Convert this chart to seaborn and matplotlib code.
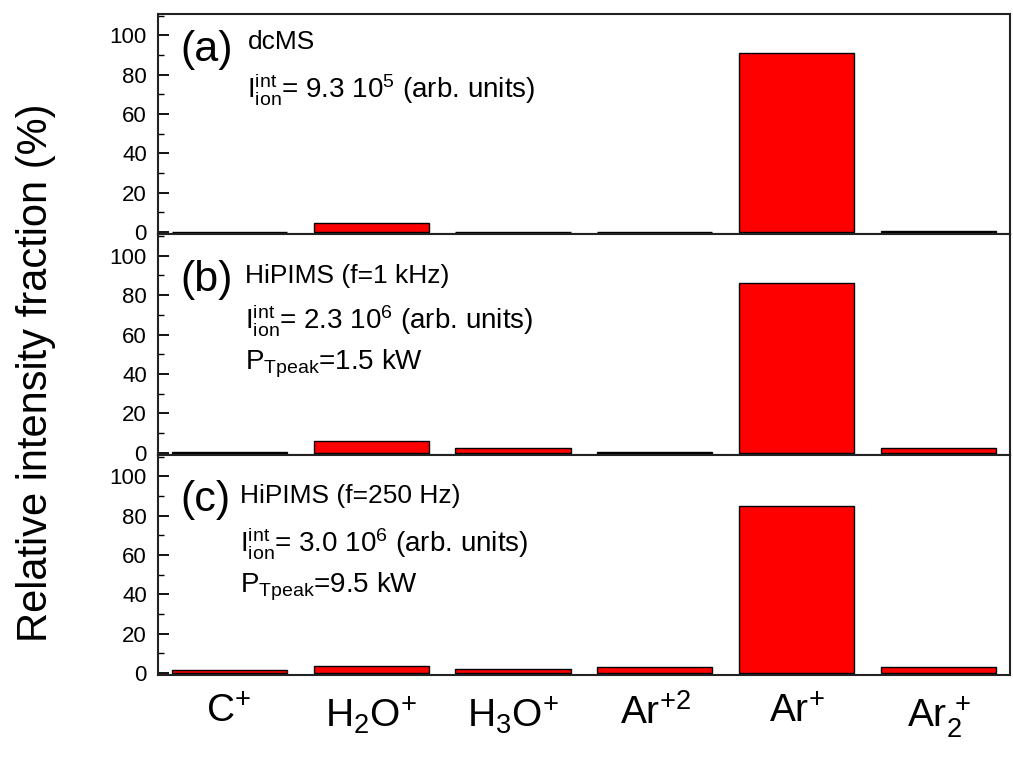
import matplotlib
matplotlib.use("Agg")
import matplotlib.pyplot as plt
from matplotlib.ticker import MultipleLocator
import seaborn as sns
import pandas as pd

ions = ["C+", "H2O+", "H3O+", "Ar+2", "Ar+", "Ar2+"]
ion_labels = [r"C$^{+}$", r"H$_{2}$O$^{+}$", r"H$_{3}$O$^{+}$",
              r"Ar$^{+2}$", r"Ar$^{+}$", r"Ar$_{2}^{\,+}$"]

dcms = [0.3, 4.5, 0.3, 0.2, 90.9, 0.4]
hipims_1khz = [0.3, 6.0, 2.3, 0.2, 86.0, 2.4]
hipims_250hz = [1.4, 3.5, 1.8, 3.0, 85.0, 3.0]

panel_tags = ["(a)", "(b)", "(c)"]
panel_titles = ["dcMS", "HiPIMS (f=1 kHz)", "HiPIMS (f=250 Hz)"]
ion_int = [r"$\mathrm{I_{ion}^{int}}$= 9.3 10$^{5}$ (arb. units)",
           r"$\mathrm{I_{ion}^{int}}$= 2.3 10$^{6}$ (arb. units)",
           r"$\mathrm{I_{ion}^{int}}$= 3.0 10$^{6}$ (arb. units)"]
peak_power = [None, r"$\mathrm{P_{Tpeak}}$=1.5 kW", r"$\mathrm{P_{Tpeak}}$=9.5 kW"]

series = [dcms, hipims_1khz, hipims_250hz]

sns.set_theme(style="ticks")
plt.rcParams["font.family"] = ["Liberation Sans", "DejaVu Sans"]
plt.rcParams["mathtext.fontset"] = "custom"
plt.rcParams["mathtext.rm"] = "Liberation Sans"
plt.rcParams["mathtext.it"] = "Liberation Sans"
plt.rcParams["mathtext.bf"] = "Liberation Sans:bold"
plt.rcParams["text.color"] = "black"
plt.rcParams["xtick.color"] = "black"
plt.rcParams["ytick.color"] = "black"
plt.rcParams["axes.edgecolor"] = "black"
plt.rcParams["ytick.direction"] = "in"
plt.rcParams["xtick.direction"] = "in"

fig = plt.figure(figsize=(10.13, 7.61), dpi=100)
gs = fig.add_gridspec(3, 1, left=0.156, right=0.997, top=0.982, bottom=0.113, hspace=0)
axes = [fig.add_subplot(gs[i]) for i in range(3)]

for i, ax in enumerate(axes):
    df = pd.DataFrame({"ion": ions, "val": series[i]})
    sns.barplot(data=df, x="ion", y="val", order=ions, color="#ff0000",
                saturation=1, edgecolor="black", linewidth=1.0, width=0.81, ax=ax)
    ax.set_xlim(-0.5, 5.5)
    ax.set_ylim(-1, 111)
    ax.yaxis.set_major_locator(MultipleLocator(20))
    ax.yaxis.set_minor_locator(MultipleLocator(10))
    ax.tick_params(axis="y", which="major", direction="in", length=8, width=1.3,
                   labelsize=16, pad=8, colors="black")
    ax.tick_params(axis="y", which="minor", direction="in", length=4, width=1.0)
    ax.tick_params(axis="x", which="both", length=0)
    for s in ax.spines.values():
        s.set_linewidth(1.5)
        s.set_color("#222222")
    ax.set_xlabel("")
    ax.set_ylabel("")
    if i < 2:
        ax.set_xticklabels([])
    else:
        ax.set_xticks(range(len(ions)))
        ax.set_xticklabels(ion_labels, fontsize=28)
        ax.tick_params(axis="x", pad=14, colors="black")

    ax.text(0.026, [0.835, 0.79, 0.795][i], panel_tags[i], transform=ax.transAxes,
            fontsize=31, va="center", ha="left")
    tx = [0.105, 0.102, 0.096][i]
    ax.text(tx, [0.87, 0.81, 0.81][i], panel_titles[i], transform=ax.transAxes,
            fontsize=19, va="center", ha="left")
    ax.text(tx, [0.66, 0.61, 0.60][i], ion_int[i], transform=ax.transAxes,
            fontsize=20, va="center", ha="left")
    if peak_power[i]:
        ax.text(tx, [0, 0.41, 0.40][i], peak_power[i], transform=ax.transAxes,
                fontsize=20, va="center", ha="left")

fig.text(0.036, 0.51, "Relative intensity fraction (%)", rotation=90,
         fontsize=30, va="center", ha="center")

fig.savefig("out.png", dpi=100)
